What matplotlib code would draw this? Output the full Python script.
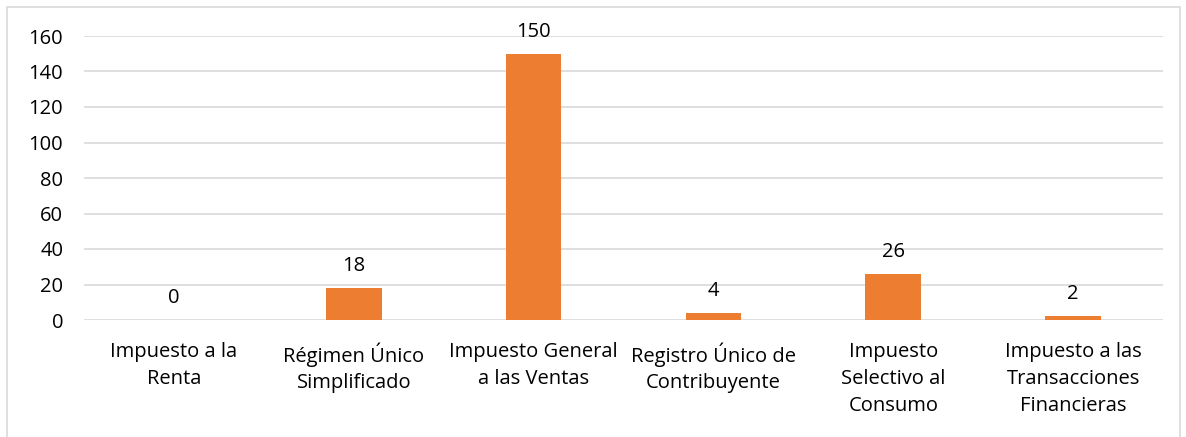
import matplotlib
matplotlib.use("Agg")
import matplotlib.pyplot as plt
from matplotlib.patches import Rectangle

categories = ["Impuesto a la\nRenta", "Régimen Único\nSimplificado", "Impuesto General\na las Ventas",
              "Registro Único de\nContribuyente", "Impuesto\nSelectivo al\nConsumo",
              "Impuesto a las\nTransacciones\nFinancieras"]
values = [0, 18, 150, 4, 26, 2]
yticks = [0, 20, 40, 60, 80, 100, 120, 140, 160]

plt.rcParams['font.family'] = ['Open Sans', 'DejaVu Sans']
fig = plt.figure(figsize=(11.86, 4.37), dpi=100)
fig.patches.append(Rectangle((7/1186, -0.1), 1173/1186, 1.1 - 7/437, transform=fig.transFigure,
                             fill=False, edgecolor='#D9D9D9', linewidth=1.2))
ax = fig.add_axes([84/1186, 1 - 320/437, 1079/1186, 284/437])
x = list(range(len(categories)))
ax.bar(x, values, width=0.31, color='#ED7D31', zorder=3)
for xi, v in zip(x, values):
    ax.annotate(str(v), (xi, v), xytext=(0, 16), textcoords='offset points',
                ha='center', va='center', fontsize=14.5, color='#000000')
ax.set_xlim(-0.5, len(categories) - 0.5)
ax.set_ylim(0, 160)
ax.set_yticks(yticks)
ax.set_yticklabels([str(t) for t in yticks], fontsize=14.5)
ax.set_xticks(x)
ax.set_xticklabels(categories, fontsize=14.5, linespacing=1.45, va='top')
ax.tick_params(axis='both', length=0)
ax.tick_params(axis='y', pad=15)
ax.tick_params(axis='x', pad=16)
ax.grid(axis='y', color='#D9D9D9', linewidth=1.2, zorder=0)
for s in ax.spines.values():
    s.set_visible(False)
fig.savefig("out.png", dpi=100)
